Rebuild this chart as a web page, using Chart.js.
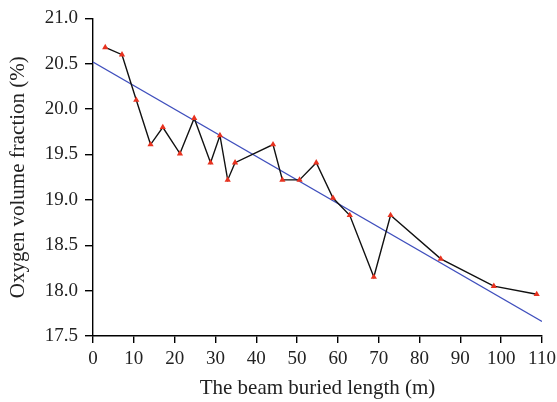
<!DOCTYPE html>
<html>
<head>
<meta charset="utf-8">
<script src="https://cdn.jsdelivr.net/npm/chart.js@4/dist/chart.umd.min.js"></script>
<style>
  html, body { margin: 0; padding: 0; background: #fff; }
  #wrap { width: 557px; height: 402px; position: relative; }
</style>
</head>
<body>
<div id="wrap"><canvas id="oxygenChart"></canvas></div>
<script>
// measured points (beam buried length m, oxygen volume fraction %)
const lengths = [3.0, 7.1, 10.6, 14.1, 17.1, 21.3, 24.8, 28.8, 31.1, 33.0, 34.8, 44.1,
                 46.4, 50.6, 54.7, 58.8, 62.9, 68.8, 72.9, 85.2, 98.2, 108.7];
const oxygen = [20.68, 20.6, 20.1, 19.61, 19.8, 19.51, 19.9, 19.41, 19.71, 19.22, 19.41, 19.61,
                19.22, 19.22, 19.41, 19.02, 18.83, 18.15, 18.83, 18.35, 18.05, 17.96];
// linear fit end points
const fitX = [0, 110];
const fitY = [20.52, 17.66];
const xTicks = [0, 10, 20, 30, 40, 50, 60, 70, 80, 90, 100, 110];
const yTicks = [17.5, 18.0, 18.5, 19.0, 19.5, 20.0, 20.5, 21.0];

document.addEventListener('DOMContentLoaded', function () {
    const ctx = document.getElementById('oxygenChart').getContext('2d');
    const family = '"Liberation Serif", "DejaVu Serif", serif';
    const tickFont = { family: family, size: 19 };
    const titleFont = { family: family, size: 21 };
    new Chart(ctx, {
        type: 'scatter',
        data: {
            datasets: [{
                label: 'Measured',
                data: lengths.map((x, i) => ({ x: x, y: oxygen[i] })),
                showLine: true,
                borderColor: '#111',
                borderWidth: 1.4,
                pointStyle: 'triangle',
                pointRadius: 3.6,
                pointBackgroundColor: '#e8321f',
                pointBorderColor: '#e8321f',
                pointBorderWidth: 0,
                order: 1
            }, {
                label: 'Fit',
                data: fitX.map((x, i) => ({ x: x, y: fitY[i] })),
                showLine: true,
                borderColor: '#3f4fbd',
                borderWidth: 1.2,
                pointRadius: 0,
                order: 2
            }]
        },
        options: {
            responsive: true,
            maintainAspectRatio: false,
            animation: false,
            layout: { padding: { top: 18, right: 0, left: 0, bottom: 0 } },
            plugins: { legend: { display: false }, tooltip: { enabled: false } },
            scales: {
                x: {
                    type: 'linear',
                    min: 0, max: 110,
                    afterBuildTicks: function (s) { s.ticks = xTicks.map(v => ({ value: v })); },
                    afterFit: function (s) { s.height = 66; s.paddingLeft = 0; s.paddingRight = 15; },
                    ticks: { color: '#222', font: tickFont, padding: 5, maxRotation: 0 },
                    grid: { drawOnChartArea: false, drawTicks: true, tickLength: 7, color: '#000', lineWidth: 1.4 },
                    border: { color: '#000', width: 1.4 },
                    title: { display: true, text: 'The beam buried length (m)', color: '#222',
                             font: titleFont, padding: { top: 0, bottom: 1 } }
                },
                y: {
                    type: 'linear',
                    min: 17.5, max: 21,
                    afterBuildTicks: function (s) { s.ticks = yTicks.map(v => ({ value: v })); },
                    afterFit: function (s) { s.width = 93; },
                    ticks: { color: '#222', font: tickFont, padding: 7,
                             callback: function (v) { return Number(v).toFixed(1); } },
                    grid: { drawOnChartArea: false, drawTicks: true, tickLength: 8, color: '#000', lineWidth: 1.4 },
                    border: { color: '#000', width: 1.4 },
                    title: { display: true, text: 'Oxygen volume fraction (%)', color: '#222',
                             font: titleFont, padding: { top: 6, bottom: 0 } }
                }
            }
        }
    });
});
</script>
</body>
</html>
